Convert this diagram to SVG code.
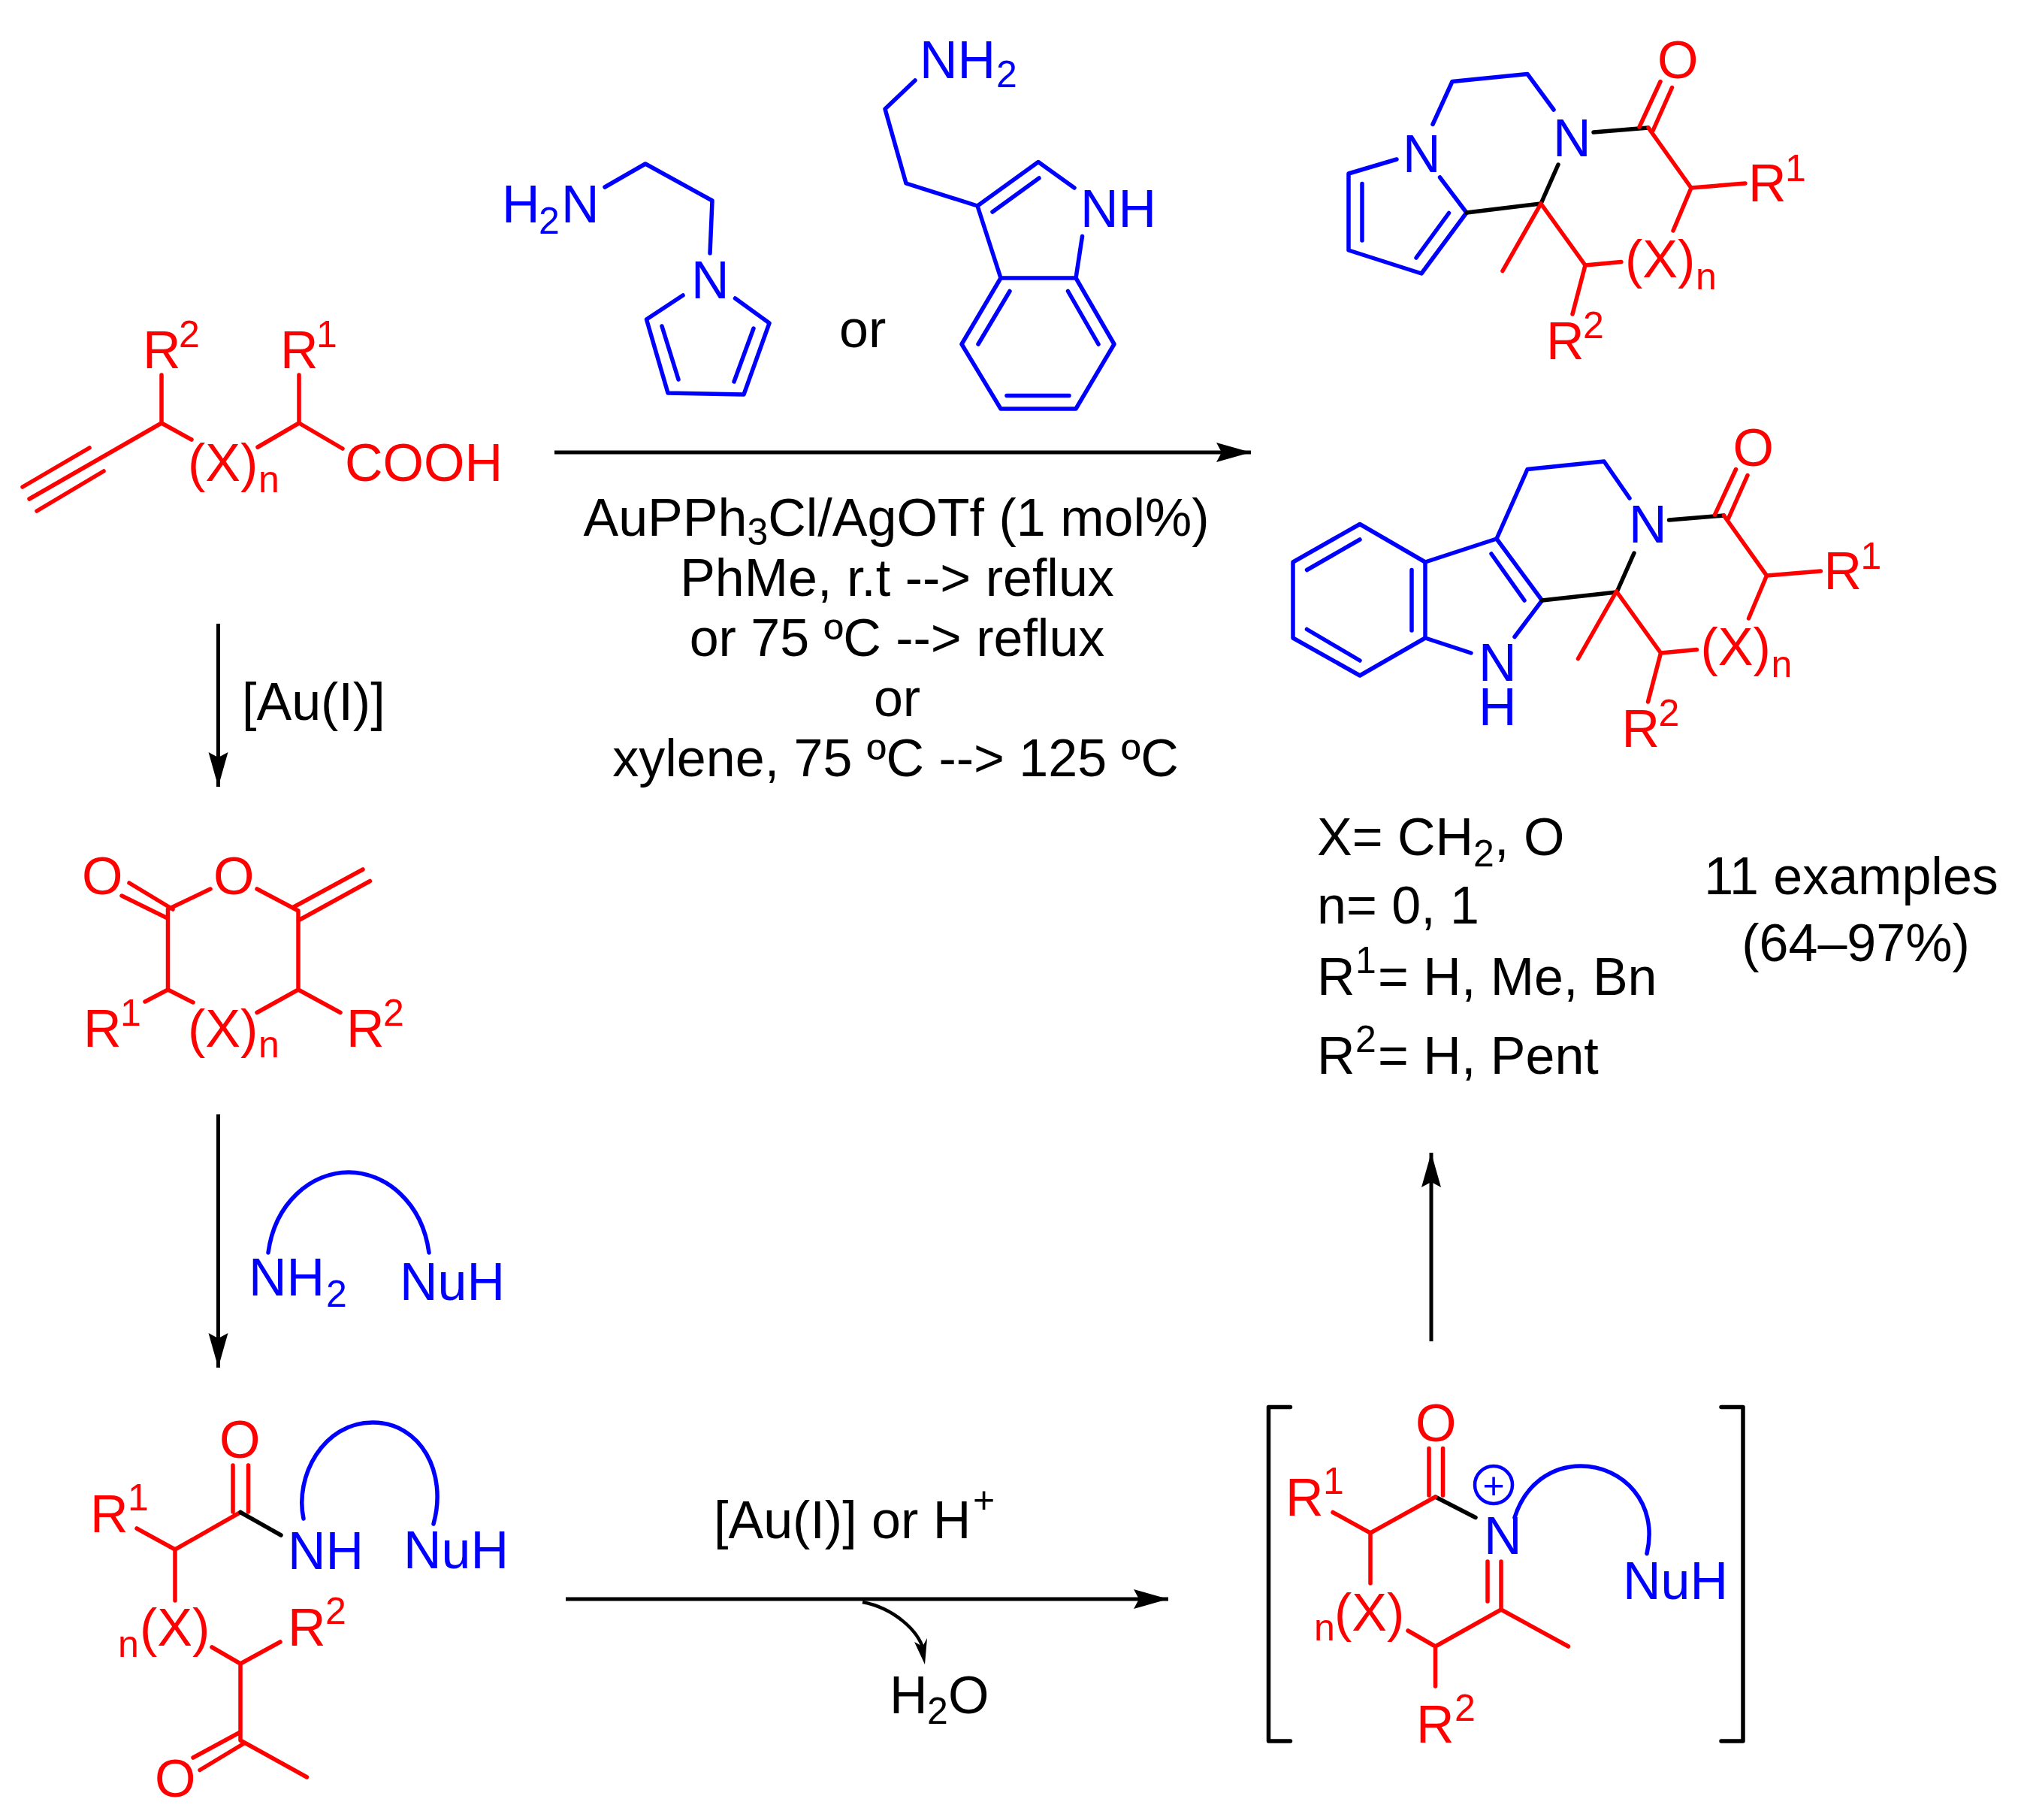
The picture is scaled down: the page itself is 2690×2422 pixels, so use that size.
<svg xmlns="http://www.w3.org/2000/svg" width="2690" height="2422" viewBox="0 0 2690 2422">
<defs>
<style>
text{font-family:"Liberation Sans",Arial,sans-serif;font-size:70px}
.r{fill:#f00}.b{fill:#00f}.k{fill:#000}
.s{font-size:50px}
.lr,.lb,.lk{fill:none;stroke-width:5.5;stroke-linecap:round;stroke-linejoin:round}
.lr{stroke:#f00}.lb{stroke:#00f}.lk{stroke:#000}
.c{text-anchor:middle}
.arr{fill:none;stroke:#000;stroke-width:5}
</style>
<marker id="head" markerUnits="userSpaceOnUse" markerWidth="46" markerHeight="28" refX="46" refY="14" orient="auto"><path d="M0 1L46 14L0 27L7 14Z" fill="#000"/></marker>
</defs>
<rect width="2690" height="2422" fill="#fff"/>

<g id="connectors">
<path class="arr" d="M738 602H1665" marker-end="url(#head)"/>
<path class="arr" d="M290.500 830V1047" marker-end="url(#head)"/>
<path class="arr" d="M290.500 1483V1820" marker-end="url(#head)"/>
<path class="arr" d="M753 2128H1555" marker-end="url(#head)"/>
<path class="arr" d="M1905 1785V1534" marker-end="url(#head)"/>
<path d="M1148 2132C1190 2140 1222 2170 1229 2195" fill="none" stroke="#000" stroke-width="4.500"/>
<path d="M1231 2215L1217 2185L1228 2191L1234 2180Z" fill="#000"/>
</g>

<g id="alkyne-acid">
<path class="lr" d="M39 664L215 563V499M215 563L255 585M343 595L398 563V499M398 563L456 597M30 648L119 596M49 680L138 627"/>
<text class="r" x="190" y="490">R<tspan class="s" x="238" y="462">2</tspan></text>
<text class="r" x="373" y="490">R<tspan class="s" x="421" y="462">1</tspan></text>
<text class="r" x="250" y="640">(X)<tspan class="s" x="344" y="655">n</tspan></text>
<text class="r" x="459" y="640">COOH</text>
</g>

<g id="pyrrole-amine">
<path class="lb" d="M805 249L859 218L948 267L945 337M909 393L860.500 425L889 523L990 525L1024 430L978.500 397M881 434L903 505M1003 437L977 508"/>
<text class="b" x="668" y="296">H<tspan class="s" x="717" y="311">2</tspan><tspan x="747" y="296">N</tspan></text>
<text class="b" x="920" y="397">N</text>
</g>
<text id="label-or-top" class="k" x="1117" y="462">or</text>

<g id="tryptamine">
<path class="lb" d="M1218 107L1178 145L1206 244L1301 274L1382 215.500L1430 250M1321 282L1383 237M1301 274L1332 370H1432L1440.500 314.500M1332 370L1280 458L1332 544H1432L1483 458L1432 370M1344 387.500L1302 458M1421.500 387.500L1462 458M1340 526.500H1423"/>
<text class="b" x="1224" y="104">NH<tspan class="s" x="1326" y="116">2</tspan></text>
<text class="b" x="1438" y="302">NH</text>
</g>

<g id="conditions" class="k">
<text class="c" x="1193" y="712.500">AuPPh<tspan class="s" dy="12">3</tspan><tspan dy="-12">Cl/AgOTf (1 mol%)</tspan></text>
<text class="c" x="1194" y="793">PhMe, r.t --&gt; reflux</text>
<text class="c" x="1194" y="872.500">or 75 ºC --&gt; reflux</text>
<text class="c" x="1194" y="953">or</text>
<text class="c" x="1192" y="1033">xylene, 75 ºC --&gt; 125 ºC</text>
</g>

<g id="product-pyrrolo">
<path class="lb" d="M1907 165.500L1933 108.500L2033 98.500L2068 146M1859 212L1795 231V333L1892 364L1952 283L1916.500 236M1813 244.500V320M1885 343L1928.500 283.500"/>
<path class="lk" d="M1952 283L2051 271L2074 219M2121 176L2194 170"/>
<path class="lr" d="M2182 169L2210 108.500M2200 174L2225.500 116.500M2194 170L2251 250L2323 244M2251 250L2227 307M2158 348.500L2110 353L2051 271L2000 360.500M2110 353L2093 418"/>
<text class="b" x="1867" y="229">N</text>
<text class="b" x="2067" y="208">N</text>
<text class="r" x="2206" y="104">O</text>
<text class="r" x="2327" y="268">R<tspan class="s" x="2376" y="241">1</tspan></text>
<text class="r" x="2163" y="368.500">(X)<tspan class="s" x="2257" y="385">n</tspan></text>
<text class="r" x="2058" y="478">R<tspan class="s" x="2107" y="450">2</tspan></text>
</g>

<g id="product-carboline">
<path class="lb" d="M1992 717L2033 624.500L2135 614L2169 663M1897 748L1992 717L2052.500 799L2016 847.500M1985 737L2029 799M1897 748L1810 697.500L1721 748V849L1810 899L1897 849V748M1739.500 758.500L1810 718M1739.500 837.500L1810 879M1879 758.500V839M1897 849L1958 869"/>
<path class="lk" d="M2052.500 799L2152 788L2175 736M2221.500 692L2294.500 686"/>
<g transform="translate(100.500 516)">
<path class="lr" d="M2182 169L2210 108.500M2200 174L2225.500 116.500M2194 170L2251 250L2323 244M2251 250L2227 307M2158 348.500L2110 353L2051 271L2000 360.500M2110 353L2093 418"/>
<text class="r" x="2206" y="104">O</text>
<text class="r" x="2327" y="268">R<tspan class="s" x="2376" y="241">1</tspan></text>
<text class="r" x="2163" y="368.500">(X)<tspan class="s" x="2257" y="385">n</tspan></text>
<text class="r" x="2058" y="478">R<tspan class="s" x="2107" y="450">2</tspan></text>
</g>
<text class="b" x="2168" y="722">N</text>
<text class="b" x="1968" y="906">N</text>
<text class="b" x="1968" y="965">H</text>
</g>

<text id="label-au-left" class="k" x="322" y="958">[Au(I)]</text>

<g id="lactone">
<path class="lr" d="M172 1175L230 1210M162 1192L223 1222M223.500 1210V1317M223.500 1210L280 1183M342 1183L397 1212V1317M390 1207.500L483 1157M397 1225L492.500 1172.500M193 1333L223.500 1317L257 1334M342 1347.500L397 1317L453 1347.500"/>
<text class="r" x="109" y="1190">O</text>
<text class="r" x="284" y="1190">O</text>
<text class="r" x="111" y="1393">R<tspan class="s" x="160" y="1365">1</tspan></text>
<text class="r" x="250" y="1393">(X)<tspan class="s" x="344" y="1407">n</tspan></text>
<text class="r" x="461" y="1393">R<tspan class="s" x="510" y="1365">2</tspan></text>
</g>

<g id="reagent-nucleophile">
<path class="lb" d="M357 1667C366 1600 415 1560 464 1560S562 1600 571 1667"/>
<text class="b" x="331" y="1724">NH<tspan class="s" x="434" y="1739">2</tspan></text>
<text class="b" x="532" y="1730">NuH</text>
</g>

<g id="amide">
<path class="lr" d="M310 1950V2012M330.500 1950V2012M320 2012.500L233 2062L182 2034M233 2062V2130M282 2192L320 2214L373 2185M320 2214V2316L408.500 2365M319 2305.500L257 2339M324 2320.500L266 2355.500"/>
<path class="lk" d="M320 2012.500L374 2043"/>
<path class="lb" d="M404 2021C392 1965 430 1893 496 1893C560 1893 596 1960 577 2028"/>
<text class="r" x="292" y="1940">O</text>
<text class="r" x="120" y="2039">R<tspan class="s" x="170" y="2010">1</tspan></text>
<text class="b" x="383" y="2088">NH</text>
<text class="b" x="537" y="2087">NuH</text>
<text class="r" x="157" y="2205"><tspan class="s">n</tspan><tspan x="186" y="2190">(X)</tspan></text>
<text class="r" x="383" y="2190">R<tspan class="s" x="433" y="2161">2</tspan></text>
<text class="r" x="206" y="2390.500">O</text>
</g>

<g id="label-au-h" class="k">
<text x="950" y="2047">[Au(I)] or H<tspan class="s" x="1295" y="2013">+</tspan></text>
<text x="1184" y="2280">H<tspan class="s" x="1234" y="2294">2</tspan><tspan x="1262" y="2280">O</tspan></text>
</g>

<g id="substituents" class="k">
<text x="1753" y="1137.500">X= CH<tspan class="s" x="1961" y="1153">2</tspan><tspan x="1989" y="1137.500">, O</tspan></text>
<text x="1753" y="1229">n= 0, 1</text>
<text x="1753" y="1324">R<tspan class="s" x="1804" y="1295">1</tspan><tspan x="1834" y="1324">= H, Me, Bn</tspan></text>
<text x="1753" y="1429">R<tspan class="s" x="1804" y="1400">2</tspan><tspan x="1834" y="1429">= H, Pent</tspan></text>
<text class="c" x="2464" y="1190">11 examples</text>
<text class="c" x="2470" y="1279">(64–97%)</text>
</g>

<g id="iminium">
<path class="lk" d="M1717.500 1872.500H1688.500V2317H1717.500M2291 1872.500H2320V2317H2291M1910.500 1992L1964 2019.500"/>
<path class="lr" d="M1902 1927.500V1990M1920.500 1927.500V1990M1910.500 1992L1824 2040L1774 2012.500M1824 2040V2107M1980 2078V2131M1998 2078V2142L2087.500 2191M1998 2142L1910.500 2191L1874 2170M1910.500 2191V2244"/>
<path class="lb" d="M2016 2019.500C2030 1975 2065 1951 2104 1951C2160 1951 2208 2000 2192 2067.500"/>
<circle cx="1988" cy="1976" r="25" fill="none" stroke="#00f" stroke-width="4.500"/>
<text class="b c" x="1988" y="1994" style="font-size:50px">+</text>
<text class="r" x="1884" y="1918">O</text>
<text class="r" x="1711" y="2017">R<tspan class="s" x="1761" y="1988">1</tspan></text>
<text class="b" x="1975" y="2067.500">N</text>
<text class="b" x="2160" y="2128">NuH</text>
<text class="r" x="1749" y="2183"><tspan class="s">n</tspan><tspan x="1776" y="2170">(X)</tspan></text>
<text class="r" x="1885" y="2319">R<tspan class="s" x="1936" y="2290">2</tspan></text>
</g>
</svg>
